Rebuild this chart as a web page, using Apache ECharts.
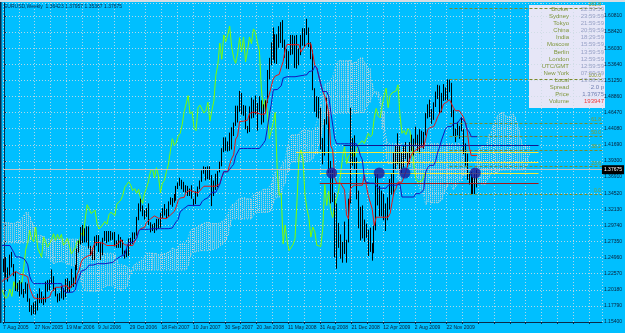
<!DOCTYPE html>
<html><head><meta charset="utf-8">
<script src="https://cdn.jsdelivr.net/npm/echarts@6/dist/echarts.min.js"></script>
<style>html,body{margin:0;padding:0;background:#00BFFF;overflow:hidden}#c{width:625px;height:333px}</style>
</head><body><div id="c"></div>
<script>
// week index 0 = week of 7 Aug 2005; first row below is week of 8 Feb 2004
const firstWeekIndex = -78;
// weekly EUR/USD rows: [open, high, low, close]
const ohlc2004 = [
[1.2610,1.2780,1.2600,1.2750],[1.2750,1.2930,1.2600,1.2630],[1.2630,1.2670,1.2340,1.2470],[1.2470,1.2520,1.2180,1.2260],
[1.2260,1.2450,1.2200,1.2350],[1.2350,1.2460,1.2250,1.2300],[1.2300,1.2400,1.2130,1.2180],[1.2180,1.2380,1.2090,1.2100],
[1.2100,1.2180,1.1990,1.2090],[1.2090,1.2130,1.1890,1.1960],[1.1960,1.2060,1.1810,1.1880],[1.1880,1.2040,1.1810,1.1990],
[1.1990,1.2230,1.1930,1.1950],[1.1950,1.1990,1.1760,1.1850],[1.1850,1.2060,1.1840,1.2020],[1.2020,1.2260,1.1950,1.2190],
[1.2190,1.2320,1.2180,1.2280],[1.2280,1.2290,1.2010,1.2030],[1.2030,1.2170,1.1980,1.2120],[1.2120,1.2200,1.2040,1.2110],
[1.2110,1.2250,1.2060,1.2190],[1.2190,1.2400,1.2180,1.2380],[1.2380,1.2420,1.2300,1.2380],[1.2380,1.2400,1.2200,1.2260],
[1.2260,1.2280,1.1980,1.2060],[1.2060,1.2320,1.2000,1.2310],[1.2310,1.2320,1.2160,1.2270],[1.2270,1.2330,1.2200,1.2320],
[1.2320,1.2340,1.2010,1.2040],[1.2040,1.2200,1.2000,1.2160],[1.2160,1.2280,1.2060,1.2250],[1.2250,1.2290,1.2160,1.2180],
[1.2180,1.2320,1.2140,1.2270],[1.2270,1.2430,1.2230,1.2410],[1.2410,1.2420,1.2240,1.2380],[1.2380,1.2440,1.2300,1.2430],
[1.2430,1.2600,1.2410,1.2570],[1.2570,1.2810,1.2560,1.2760],[1.2760,1.2930,1.2740,1.2920],[1.2920,1.2990,1.2860,1.2980],
[1.2980,1.3080,1.2940,1.3030],[1.3030,1.3290,1.3000,1.3270],[1.3270,1.3390,1.3170,1.3380],[1.3380,1.3470,1.3220,1.3260],
[1.3260,1.3390,1.3180,1.3370],[1.3370,1.3500,1.3310,1.3470],[1.3470,1.3670,1.3460,1.3560]];
const ohlc2005 = [
[1.3560,1.3570,1.3050,1.3070],[1.3070,1.3200,1.3000,1.3100],[1.3100,1.3160,1.2950,1.3040],[1.3040,1.3170,1.2930,1.3030],
[1.3030,1.3090,1.2750,1.2780],[1.2780,1.2890,1.2720,1.2880],[1.2880,1.3140,1.2870,1.3110],[1.3110,1.3290,1.3090,1.3270],
[1.3270,1.3280,1.3040,1.3240],[1.3240,1.3480,1.3220,1.3420],[1.3420,1.3470,1.3240,1.3240],[1.3240,1.3270,1.2900,1.2970],
[1.2970,1.3040,1.2870,1.2930],[1.2930,1.2980,1.2800,1.2940],[1.2940,1.3050,1.2830,1.2950],[1.2950,1.3140,1.2930,1.3050],
[1.3050,1.3090,1.2870,1.2960],[1.2960,1.3020,1.2840,1.2860],[1.2860,1.2940,1.2630,1.2640],[1.2640,1.2740,1.2560,1.2630],
[1.2630,1.2650,1.2490,1.2560],[1.2560,1.2570,1.2170,1.2280],[1.2280,1.2380,1.2040,1.2090],[1.2090,1.2220,1.2040,1.2190],
[1.2190,1.2260,1.2050,1.2070],[1.2070,1.2190,1.1950,1.2100],[1.2100,1.2130,1.1870,1.1960],[1.1960,1.2160,1.1920,1.2020],
[1.2020,1.2190,1.1960,1.2090],[1.2090,1.2200,1.2000,1.2130],[1.2130,1.2400,1.2120,1.2360],
[1.2360,1.2480,1.2280,1.2370],[1.2370,1.2500,1.2200,1.2260],[1.2260,1.2350,1.2140,1.2280],[1.2280,1.2540,1.2230,1.2500],
[1.2500,1.2580,1.2350,1.2390],[1.2390,1.2400,1.2220,1.2280],[1.2280,1.2290,1.2000,1.2050],[1.2050,1.2120,1.1990,1.2030],
[1.2030,1.2160,1.1920,1.2090],[1.2090,1.2130,1.1950,1.2000],[1.2000,1.2030,1.1900,1.1980],[1.1980,1.2130,1.1960,1.2050],
[1.2050,1.2110,1.1840,1.1880],[1.1880,1.1890,1.1690,1.1740],[1.1740,1.1790,1.1640,1.1680],[1.1680,1.1830,1.1660,1.1800],
[1.1800,1.1850,1.1650,1.1720],[1.1720,1.1960,1.1710,1.1940],[1.1940,1.2040,1.1820,1.1970],[1.1970,1.1990,1.1820,1.1860],
[1.1860,1.1920,1.1790,1.1840]];
const ohlc2006 = [
[1.1840,1.2140,1.1830,1.2140],[1.2140,1.2160,1.1990,1.2100],[1.2100,1.2170,1.2010,1.2160],[1.2160,1.2320,1.2100,1.2160],
[1.2160,1.2220,1.2000,1.2020],[1.2020,1.2050,1.1920,1.1940],[1.1940,1.1960,1.1830,1.1890],[1.1890,1.1970,1.1850,1.1920],
[1.1920,1.2080,1.1890,1.2030],[1.2030,1.2040,1.1870,1.1920],[1.1920,1.2180,1.1910,1.2140],[1.2140,1.2190,1.1980,1.2030],
[1.2030,1.2150,1.1980,1.2120],[1.2120,1.2330,1.2050,1.2110],[1.2110,1.2200,1.2060,1.2120],[1.2120,1.2390,1.2100,1.2350],
[1.2350,1.2630,1.2310,1.2620],[1.2620,1.2750,1.2570,1.2720],[1.2720,1.2950,1.2690,1.2900],[1.2900,1.2980,1.2710,1.2770],
[1.2770,1.2930,1.2720,1.2730],[1.2730,1.2960,1.2720,1.2950],[1.2950,1.2960,1.2630,1.2640],[1.2640,1.2670,1.2520,1.2620],
[1.2620,1.2640,1.2460,1.2500],[1.2500,1.2810,1.2460,1.2800],[1.2800,1.2830,1.2670,1.2820],[1.2820,1.2830,1.2580,1.2650],
[1.2650,1.2730,1.2460,1.2650],[1.2650,1.2790,1.2530,1.2760],[1.2760,1.2890,1.2740,1.2850],[1.2850,1.2890,1.2710,1.2750],
[1.2750,1.2890,1.2730,1.2840],[1.2840,1.2890,1.2750,1.2770],[1.2770,1.2870,1.2760,1.2840],[1.2840,1.2880,1.2660,1.2680],
[1.2680,1.2750,1.2640,1.2720],[1.2720,1.2840,1.2640,1.2780],[1.2780,1.2800,1.2640,1.2680],[1.2680,1.2760,1.2540,1.2550],
[1.2550,1.2600,1.2480,1.2550],[1.2550,1.2640,1.2500,1.2640],[1.2640,1.2780,1.2520,1.2740],[1.2740,1.2790,1.2670,1.2710],
[1.2710,1.2870,1.2700,1.2860],[1.2860,1.2870,1.2770,1.2820],[1.2820,1.3100,1.2820,1.3060],[1.3060,1.3300,1.3050,1.3280],
[1.3280,1.3370,1.3180,1.3220],[1.3220,1.3270,1.3110,1.3150],[1.3150,1.3200,1.3060,1.3140],[1.3140,1.3230,1.3100,1.3200]];
const ohlc2007 = [
[1.3200,1.3300,1.2980,1.3000],[1.3000,1.3020,1.2870,1.2920],[1.2920,1.2990,1.2890,1.2950],[1.2950,1.3010,1.2860,1.2950],
[1.2950,1.3070,1.2900,1.3030],[1.3030,1.3070,1.2920,1.2990],[1.2990,1.3160,1.2940,1.3130],[1.3130,1.3230,1.3080,1.3170],
[1.3170,1.3290,1.3120,1.3160],[1.3160,1.3220,1.3080,1.3120],[1.3120,1.3330,1.3100,1.3290],[1.3290,1.3390,1.3280,1.3310],
[1.3310,1.3380,1.3250,1.3350],[1.3350,1.3440,1.3310,1.3420],[1.3420,1.3560,1.3340,1.3540],[1.3540,1.3610,1.3510,1.3580],
[1.3580,1.3680,1.3560,1.3620],[1.3620,1.3650,1.3510,1.3570],[1.3570,1.3620,1.3470,1.3490],[1.3490,1.3570,1.3460,1.3520],
[1.3520,1.3560,1.3410,1.3450],[1.3450,1.3520,1.3410,1.3510],[1.3510,1.3570,1.3370,1.3370],[1.3370,1.3370,1.3260,1.3300],
[1.3300,1.3480,1.3290,1.3450],[1.3450,1.3550,1.3400,1.3530],[1.3530,1.3640,1.3510,1.3630],[1.3630,1.3790,1.3620,1.3780],
[1.3780,1.3850,1.3740,1.3810],[1.3810,1.3840,1.3640,1.3680],[1.3680,1.3850,1.3660,1.3830],[1.3830,1.3850,1.3650,1.3710],
[1.3710,1.3720,1.3260,1.3460],[1.3460,1.3640,1.3410,1.3600],[1.3600,1.3740,1.3500,1.3640],[1.3640,1.3780,1.3540,1.3770],
[1.3770,1.3920,1.3760,1.3870],[1.3870,1.4120,1.3850,1.4070],[1.4070,1.4280,1.4060,1.4260],[1.4260,1.4280,1.4080,1.4160],
[1.4160,1.4220,1.4070,1.4200],[1.4200,1.4350,1.4080,1.4300],[1.4300,1.4430,1.4100,1.4340],[1.4340,1.4500,1.4300,1.4470],
[1.4470,1.4750,1.4450,1.4660],[1.4660,1.4750,1.4500,1.4680],[1.4680,1.4970,1.4660,1.4900],[1.4900,1.4940,1.4620,1.4630],
[1.4630,1.4760,1.4600,1.4660],[1.4660,1.4750,1.4400,1.4420],[1.4420,1.4450,1.4340,1.4380],[1.4380,1.4740,1.4360,1.4720]];
const ohlc2008 = [
[1.4720,1.4870,1.4560,1.4760],[1.4760,1.4840,1.4570,1.4780],[1.4780,1.4900,1.4620,1.4640],[1.4640,1.4790,1.4380,1.4680],
[1.4680,1.4890,1.4660,1.4800],[1.4800,1.4830,1.4470,1.4520],[1.4520,1.4770,1.4500,1.4680],[1.4680,1.4830,1.4640,1.4820],
[1.4820,1.5280,1.4790,1.5200],[1.5200,1.5460,1.5140,1.5360],[1.5360,1.5690,1.5350,1.5680],[1.5680,1.5910,1.5430,1.5440],
[1.5440,1.5810,1.5380,1.5800],[1.5800,1.5810,1.5370,1.5700],[1.5700,1.5930,1.5610,1.5800],[1.5800,1.5990,1.5680,1.5930],
[1.5930,1.6020,1.5610,1.5620],[1.5620,1.5730,1.5460,1.5460],[1.5460,1.5590,1.5300,1.5380],[1.5380,1.5560,1.5290,1.5520],
[1.5520,1.5800,1.5500,1.5760],[1.5760,1.5800,1.5510,1.5550],[1.5550,1.5790,1.5310,1.5770],[1.5770,1.5800,1.5300,1.5400],
[1.5400,1.5600,1.5350,1.5570],[1.5570,1.5800,1.5500,1.5770],[1.5770,1.5900,1.5640,1.5670],[1.5670,1.5900,1.5620,1.5890],
[1.5890,1.6040,1.5800,1.5840],[1.5840,1.5910,1.5620,1.5690],[1.5690,1.5690,1.5440,1.5560],[1.5560,1.5570,1.4980,1.5000],
[1.5000,1.5010,1.4660,1.4680],[1.4680,1.4890,1.4580,1.4850],[1.4850,1.4880,1.4560,1.4670],[1.4670,1.4720,1.4100,1.4260],
[1.4260,1.4270,1.3880,1.4240],[1.4240,1.4550,1.4010,1.4500],[1.4500,1.4870,1.4470,1.4650],[1.4650,1.4670,1.3740,1.3790],
[1.3790,1.3930,1.3300,1.3420],[1.3420,1.3810,1.3320,1.3450],[1.3450,1.3460,1.2500,1.2700],[1.2700,1.3300,1.2330,1.2980],
[1.2980,1.3010,1.2640,1.2740],[1.2740,1.2840,1.2480,1.2600],[1.2600,1.2730,1.2420,1.2590],[1.2590,1.3030,1.2550,1.2690],
[1.2690,1.2760,1.2420,1.2780],[1.2780,1.3370,1.2720,1.3340],[1.3340,1.4720,1.3300,1.3990],[1.3990,1.4270,1.3860,1.4090],
[1.4090,1.4310,1.3810,1.3960]];
const ohlc2009 = [
[1.3960,1.3980,1.3360,1.3430],[1.3430,1.3490,1.2930,1.3220],[1.3220,1.3250,1.2750,1.3080],[1.3080,1.3270,1.2780,1.2800],
[1.2800,1.3060,1.2730,1.2950],[1.2950,1.3000,1.2790,1.2880],[1.2880,1.2910,1.2520,1.2680],[1.2680,1.2940,1.2580,1.2660],
[1.2660,1.2710,1.2450,1.2660],[1.2660,1.2970,1.2560,1.2930],[1.2930,1.3740,1.2900,1.3580],[1.3580,1.3740,1.3270,1.3270],
[1.3270,1.3560,1.3110,1.3480],[1.3480,1.3490,1.3110,1.3200],[1.3200,1.3440,1.3050,1.3090],[1.3090,1.3300,1.2890,1.3260],
[1.3260,1.3390,1.3050,1.3280],[1.3280,1.3660,1.3210,1.3490],[1.3490,1.3740,1.3430,1.3470],[1.3470,1.4050,1.3420,1.3980],
[1.3980,1.4160,1.3810,1.4140],[1.4140,1.4340,1.3880,1.3890],[1.3890,1.4150,1.3790,1.4000],[1.4000,1.4050,1.3740,1.4000],
[1.4000,1.4150,1.3830,1.4060],[1.4060,1.4210,1.3960,1.3980],[1.3980,1.4060,1.3840,1.3970],[1.3970,1.4210,1.3880,1.4170],
[1.4170,1.4320,1.4080,1.4200],[1.4200,1.4260,1.4010,1.4230],[1.4230,1.4440,1.4170,1.4190],[1.4190,1.4320,1.4080,1.4200],
[1.4200,1.4400,1.4040,1.4340],[1.4340,1.4380,1.4140,1.4290],[1.4290,1.4360,1.4110,1.4320],[1.4320,1.4640,1.4310,1.4570],
[1.4570,1.4770,1.4560,1.4710],[1.4710,1.4840,1.4580,1.4600],[1.4600,1.4700,1.4480,1.4570],[1.4570,1.4800,1.4540,1.4750],
[1.4750,1.4960,1.4730,1.4900],[1.4900,1.5060,1.4850,1.5010],[1.5010,1.5050,1.4630,1.4720],[1.4720,1.4940,1.4650,1.4900],
[1.4900,1.5070,1.4820,1.4940],[1.4940,1.5020,1.4830,1.4930],[1.4930,1.5140,1.4830,1.4970],[1.4970,1.5140,1.4950,1.5060],
[1.5060,1.5090,1.4580,1.4610],[1.4610,1.4690,1.4300,1.4340],[1.4340,1.4410,1.4210,1.4380],[1.4380,1.4510,1.4310,1.4320]];
const ohlc2010 = [
[1.4320,1.4450,1.4260,1.4410],[1.4410,1.4580,1.4370,1.4380],[1.4380,1.4400,1.4030,1.4140],[1.4140,1.4190,1.3860,1.3870],
[1.3870,1.4040,1.3650,1.3670],[1.3670,1.3760,1.3580,1.3620],[1.3620,1.3770,1.3440,1.3610],[1.3610,1.3690,1.3440,1.3630],
[1.3630,1.3740,1.3440,1.3640],[1.36423,1.37957,1.35367,1.37675]];

// price axis: ticks from 1.15400, step 0.02390
const priceMin = 1.154, priceStep = 0.0239, priceMax = 1.6274;
// time axis labels every 16 weeks starting at week 0
const dateLabels = ['7 Aug 2005','27 Nov 2005','19 Mar 2006','9 Jul 2006','29 Oct 2006','18 Feb 2007','10 Jun 2007','30 Sep 2007','20 Jan 2008','11 May 2008','31 Aug 2008','21 Dec 2008','12 Apr 2009','2 Aug 2009','22 Nov 2009'];
const headerText = 'EURUSD,Weekly  1.36423 1.37957 1.35367 1.37675';
const bidPrice = 1.37675;
// horizontal annotation lines: price, start week, end week
const hlinePrices = [1.4063, 1.3914, 1.3751, 1.3603, 1.4167];
const hlineFrom   = [147.5, 173.5, 159.5, 159.5, 171.5];
const hlineTo     = [270, 270, 270, 270, 270];
// circle markers on the 1.3751 line
const circleWeeks = [165.5, 189.5, 202.5, 238];
const circlePrice = 1.3751;
// Fibonacci tool
const fibLow = 1.3443, fibHigh = 1.5145, fibStartWeek = 225, fibEndWeek = 302;
const fibLevels = [0, 23.6, 38.2, 50, 61.8, 100, 161.8];
// info panel
const infoNames = ['Broker','Sydney','Tokyo','China','India','Moscow','Berlin','London','UTC/GMT','New York','Local','Spread','Price','Volume'];
const infoValues = ['22:59:59','23:59:59','21:59:59','20:59:59','18:29:59','15:59:59','13:59:59','12:59:59','12:59:59','07:59:59','13:08:12','2.0 p','1.37675','193947'];

const rows = [].concat(ohlc2004, ohlc2005, ohlc2006, ohlc2007, ohlc2008, ohlc2009, ohlc2010);
const wk = j => j + firstWeekIndex;
function mid(j, n) {
  if (j - n + 1 < 0) return null;
  let h = -Infinity, l = Infinity;
  for (let k = j - n + 1; k <= j; k++) { h = Math.max(h, rows[k][1]); l = Math.min(l, rows[k][2]); }
  return (h + l) / 2;
}
const candles = rows.map((r, j) => [wk(j), r[0], r[3], r[2], r[1]]);
const tenkan = [], kijun = [], chikou = [], spanA = [], spanB = [], cloudBars = [];
rows.forEach((r, j) => {
  const t = mid(j, 9), k = mid(j, 26), b = mid(j, 52);
  if (t !== null) tenkan.push([wk(j), t]);
  if (k !== null) kijun.push([wk(j), k]);
  chikou.push([wk(j) - 26, r[3]]);
  if (t !== null && k !== null) spanA.push([wk(j) + 26, (t + k) / 2]);
  if (b !== null) {
    spanB.push([wk(j) + 26, b]);
    cloudBars.push([wk(j) + 26, (t + k) / 2, b]);
  }
});

const hlineColors = ['#f4e83a', '#f4e83a', '#f4e83a', '#a01818', '#14148c'];
const hlineData = hlinePrices.map((p, n) => [
  { coord: [hlineFrom[n], p], lineStyle: { color: hlineColors[n], width: 1, type: 'solid' } },
  { coord: [hlineTo[n], p] }]);
const fibData = fibLevels.map(r => {
  const p = fibLow + (fibHigh - fibLow) * r / 100;
  return [{ coord: [fibStartWeek, p], name: r.toFixed(1) }, { coord: [fibEndWeek, p] }];
});

const FONT = 'Liberation Sans';
const chart = echarts.init(document.getElementById('c'), null, { renderer: 'canvas' });
const graphics = [
  { type: 'rect', shape: { x: 0, y: 0, width: 625, height: 2 }, style: { fill: '#d6dde3' }, z: 50 },
  { type: 'rect', shape: { x: 0, y: 2, width: 1.5, height: 321 }, style: { fill: '#0b2a4a' }, z: 50 },
  { type: 'text', left: 4, top: 4, style: { text: headerText, font: '5px ' + FONT, fill: '#06264a' }, z: 50 },
  { type: 'rect', shape: { x: 529, y: 5, width: 76, height: 103 }, style: { fill: '#e6e6f7' }, z: -1 }
];
infoNames.forEach((nm, n) => {
  const y = 9.3 + n * 7.1;
  graphics.push({ type: 'text', x: 569, y: y, style: { text: nm, font: '6px ' + FONT, fill: '#7f963c', align: 'right', verticalAlign: 'middle' }, z: 60 });
  let vc = '#97a1c6';
  if (n >= 11) vc = '#6f7fb2';
  if (n === 13) vc = '#ee4040';
  graphics.push({ type: 'text', x: 604, y: y, style: { text: infoValues[n], font: '6px ' + FONT, fill: vc, align: 'right', verticalAlign: 'middle' }, z: 60 });
});

chart.setOption({
  backgroundColor: '#00BFFF',
  animation: false,
  grid: { left: 1, right: 19, top: 3, bottom: 11 },
  xAxis: {
    type: 'value', min: -0.5, max: 302, interval: 8,
    axisLine: { show: true, lineStyle: { color: '#0b2a4a', width: 1 } },
    axisTick: { show: true, length: 2, lineStyle: { color: '#0b2a4a' } },
    splitLine: { show: true, lineStyle: { color: 'rgba(205,218,228,0.85)', type: [1, 2], width: 1 } },
    axisLabel: {
      show: true, fontSize: 5, fontFamily: FONT, color: '#0a1e38', align: 'left', margin: 3, showMaxLabel: false,
      formatter: v => { const k = (v + 0.5) / 16; return (Math.abs(k - Math.round(k)) < 1e-6 && dateLabels[Math.round(k)]) ? dateLabels[Math.round(k)] : ''; }
    }
  },
  yAxis: {
    type: 'value', position: 'right', min: priceMin, max: priceMax, interval: priceStep, scale: true,
    axisLine: { show: true, lineStyle: { color: '#0b2a4a', width: 1 } },
    axisTick: { show: true, length: 2, lineStyle: { color: '#0b2a4a' } },
    splitLine: { show: true, lineStyle: { color: 'rgba(205,218,228,0.85)', type: [1, 2], width: 1 } },
    axisLabel: { fontSize: 5, fontFamily: FONT, color: '#0a1e38', margin: 2, showMaxLabel: false, formatter: v => v.toFixed(5) }
  },
  graphic: graphics,
  series: [
    {
      name: 'Kumo', type: 'custom', data: cloudBars, encode: { x: 0, y: [1, 2] }, z: 1, silent: true, clip: true,
      renderItem: (params, api) => {
        const p1 = api.coord([api.value(0), api.value(1)]);
        const p2 = api.coord([api.value(0), api.value(2)]);
        const x = Math.round(p1[0]) + 0.5;
        return { type: 'line', shape: { x1: x, y1: p1[1], x2: x, y2: p2[1] }, style: { stroke: '#d4d4d4', lineWidth: 1, lineDash: [1, 1] } };
      }
    },
    { name: 'Senkou A', type: 'line', data: spanA, symbol: 'none', lineStyle: { color: '#cfcfcf', width: 1, type: [1, 2] }, z: 2 },
    { name: 'Senkou B', type: 'line', data: spanB, symbol: 'none', lineStyle: { color: '#cfcfcf', width: 1, type: [1, 2] }, z: 2 },
    { name: 'Chikou', type: 'line', data: chikou, symbol: 'none', lineStyle: { color: '#7CFC00', width: 1 }, z: 3 },
    {
      name: 'EURUSD', type: 'candlestick', data: candles, dimensions: ['week', 'open', 'close', 'lowest', 'highest'],
      encode: { x: 0, y: [1, 2, 3, 4] }, barWidth: 1,
      itemStyle: { color: '#8a0000', color0: '#000000', borderColor: '#000000', borderColor0: '#000000', borderWidth: 1 }, z: 4,
      markLine: {
        symbol: 'none', silent: true, animation: false,
        label: { show: false },
        data: hlineData
      }
    },
    { name: 'Tenkan', type: 'line', data: tenkan, symbol: 'none', lineStyle: { color: '#e81414', width: 1 }, z: 5 },
    {
      name: 'Kijun', type: 'line', data: kijun, symbol: 'none', lineStyle: { color: '#1616b8', width: 1 }, z: 5,
      markLine: {
        symbol: 'none', silent: true, animation: false,
        lineStyle: { color: '#7c8a2a', width: 1, type: [3, 2] },
        label: { show: true, position: 'insideEndTop', distance: [1, 1], fontSize: 5, fontFamily: FONT, color: '#8a9a2a', formatter: p => p.name },
        data: fibData
      }
    },
    {
      name: 'bid', type: 'line', data: [], z: 6,
      markLine: {
        symbol: 'none', silent: true, animation: false,
        lineStyle: { color: '#c4c4c4', width: 1, type: 'solid' },
        label: { show: true, position: 'end', distance: 0, formatter: bidPrice.toFixed(5), fontSize: 5, fontFamily: FONT, color: '#ffffff', backgroundColor: '#000000', padding: [2, 2] },
        data: [{ yAxis: bidPrice }]
      }
    },
    { name: 'marks', type: 'scatter', data: circleWeeks.map(w => [w, circlePrice]), symbol: 'circle', symbolSize: 11, itemStyle: { color: '#1c1c9a' }, z: 7 }
  ]
});
</script>
</body></html>
